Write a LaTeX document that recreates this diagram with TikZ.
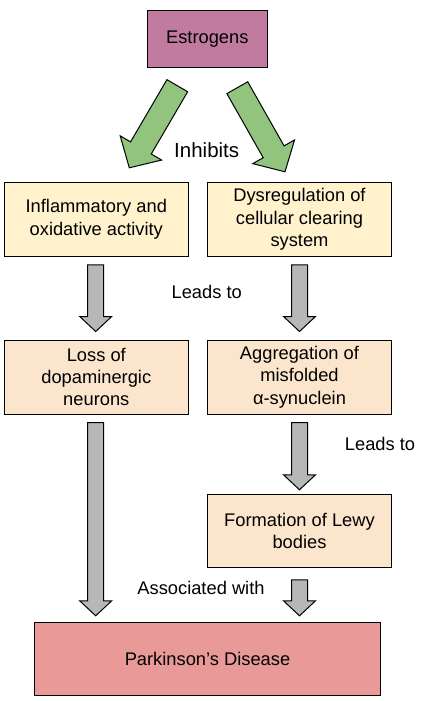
\documentclass[tikz,border=0pt]{standalone}
\usepackage{fontspec}
\setmainfont{Liberation Sans}
\usepackage{tikz}
\usetikzlibrary{positioning,calc}
\definecolor{estro}{HTML}{C27BA0}
\definecolor{cause}{HTML}{FFF2CC}
\definecolor{effect}{HTML}{FCE5CD}
\definecolor{disease}{HTML}{EA9999}
\definecolor{arrgray}{HTML}{B7B7B7}
\definecolor{arrgreen}{HTML}{93C47D}
\tikzset{
  box/.style    ={rectangle, draw=black, line width=1bp, align=center, inner sep=0pt,
                  font=\fontsize{18.3bp}{22.3bp}\selectfont,
                  minimum width=184.5bp, minimum height=74bp},
  cause/.style  ={box, fill=cause},
  effect/.style ={box, fill=effect},
  garr/.style   ={draw=black, line width=1bp, fill=arrgray},
  harr/.style   ={draw=black, line width=1bp, fill=arrgreen},
  lbl/.style    ={inner sep=0pt, font=\fontsize{18.3bp}{22.3bp}\selectfont},
}
% block arrow: [style]{from}{to}{half shaft}{half head}{head length}
\newcommand{\blockarrow}[6][]{%
  \path ($(#3)!#6!(#2)$) coordinate (bah);
  \draw[#1] ($(#2)!#4!90:(#3)$) -- ($(bah)!#4!90:(#3)$) -- ($(bah)!#5!90:(#3)$)
    -- (#3) -- ($(bah)!#5!-90:(#3)$) -- ($(bah)!#4!-90:(#3)$)
    -- ($(#2)!#4!-90:(#3)$) -- cycle;}

\begin{document}
\begin{tikzpicture}[x=1bp, y=-1bp]
  \useasboundingbox (0,0) rectangle (426,701);

  \node[box, fill=estro, minimum width=120bp, minimum height=57bp] (est) at (207.3,38.7) {Estrogens};
  \node[cause] (inf) at (96.3,219.3) {Inflammatory and\\oxidative activity};
  \node[cause] (dys) at (299.5,219.3) {Dysregulation of\\cellular clearing\\system};
  \node[effect] (loss) at (96.3,377) {Loss of\\dopaminergic\\neurons};
  \node[effect] (agg) at (299.5,377) {Aggregation of\\misfolded\\α-synuclein};
  \node[effect, minimum height=73bp] (lewy) at (299.5,530.8) {Formation of Lewy\\bodies};
  \node[box, fill=disease, minimum width=346.4bp, minimum height=73bp] (pd) at (207.5,658.8) {Parkinson’s Disease};

  \node[lbl, font=\fontsize{20.5bp}{24bp}\selectfont] (inh) at (206.7,150) {Inhibits};
  \node[lbl] (lt1) at (206.7,291.7) {Leads to};
  \node[lbl] (lt2) at (380,444) {Leads to};
  \node[lbl] (aw) at (201,588.3) {Associated with};

  % green arrows
  \coordinate (g1s) at ($(est.south)+(-30,18)$);
  \coordinate (g1e) at ($(inf.north)+(33,-14)$);
  \coordinate (g2s) at ($(est.south)+(30,20)$);
  \coordinate (g2e) at ($(dys.north)+(-14.5,-10)$);
  \blockarrow[harr]{g1s}{g1e}{12bp}{24bp}{23bp}
  \blockarrow[harr]{g2s}{g2e}{12bp}{24bp}{23bp}

  % gray arrows
  \coordinate (a1s) at ($(inf.south)+(-0.6,8)$);
  \coordinate (a1e) at ($(loss.north)+(-0.6,-8)$);
  \coordinate (a2s) at ($(dys.south)+(0,8)$);
  \coordinate (a2e) at ($(agg.north)+(0,-8)$);
  \coordinate (a3s) at ($(loss.south)+(-0.6,8)$);
  \coordinate (a3e) at ($(a3s|-pd.north)+(0,-6)$);
  \coordinate (a4s) at ($(agg.south)+(0,8)$);
  \coordinate (a4e) at ($(lewy.north)+(0,-4)$);
  \coordinate (a5s) at ($(lewy.south)+(0,12)$);
  \coordinate (a5e) at ($(a5s|-pd.north)+(0,-6)$);
  \foreach \s/\e in {a1s/a1e,a2s/a2e,a3s/a3e,a4s/a4e,a5s/a5e}{\blockarrow[garr]{\s}{\e}{8bp}{16bp}{15bp}}
\end{tikzpicture}
\end{document}
